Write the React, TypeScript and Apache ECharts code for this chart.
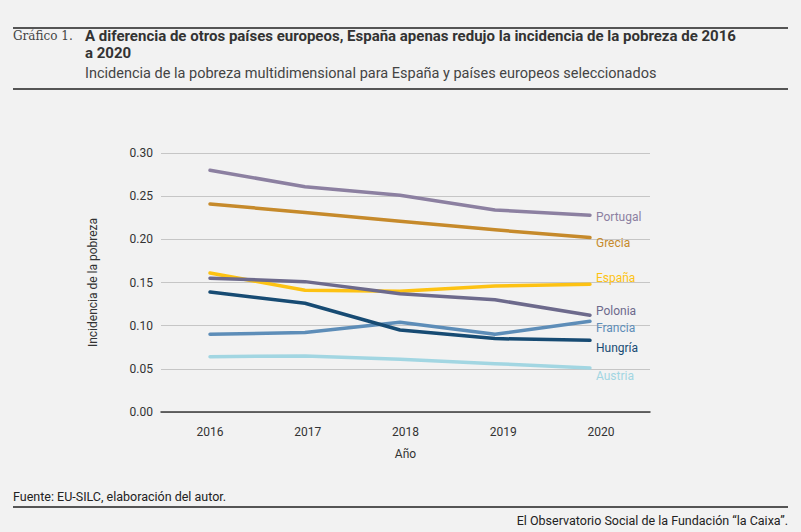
import { useEffect, useRef } from "react";
import * as echarts from "echarts";

// años y valores
const years = ["2016", "2017", "2018", "2019", "2020"];
const yearNums = [2016, 2017, 2018, 2019, 2020];

const portugal = [0.28, 0.261, 0.251, 0.234, 0.228];
const grecia = [0.241, 0.231, 0.221, 0.211, 0.202];
const espana = [0.161, 0.141, 0.14, 0.146, 0.148];
const polonia = [0.155, 0.151, 0.137, 0.13, 0.112];
const hungria = [0.139, 0.126, 0.095, 0.085, 0.083];
const francia = [0.09, 0.092, 0.104, 0.09, 0.105];
const austria = [0.064, 0.065, 0.061, 0.056, 0.051];

const yTicks = [0, 0.05, 0.1, 0.15, 0.2, 0.25, 0.3];

const countries = [
  { name: "Portugal", data: portugal, color: "#8c80a1", dy: 2 },
  { name: "Grecia", data: grecia, color: "#c68a2b", dy: 5 },
  { name: "España", data: espana, color: "#fdc213", dy: -6 },
  { name: "Polonia", data: polonia, color: "#6d6a8c", dy: -4 },
  { name: "Francia", data: francia, color: "#5d8db8", dy: 7 },
  { name: "Hungría", data: hungria, color: "#174b73", dy: 8 },
  { name: "Austria", data: austria, color: "#a2d6e2", dy: 8 },
];

const SANS = "Roboto, 'Liberation Sans', sans-serif";

export default function App() {
  const chartRef = useRef<HTMLDivElement>(null);

  useEffect(() => {
    document.body.style.margin = "0";
    const chart = echarts.init(chartRef.current, null, { renderer: "svg" });

    const option = {
      animation: false,
      backgroundColor: "#f2f2f2",
      textStyle: { fontFamily: SANS },
      grid: { left: 161, right: 151, top: 153, bottom: 120 },
      xAxis: [
        {
          type: "category",
          data: years,
          boundaryGap: true,
          name: "Año",
          nameLocation: "middle",
          nameGap: 36,
          nameTextStyle: { fontSize: 12, color: "#333", fontFamily: SANS },
          axisLine: { lineStyle: { color: "#3a3a3a", width: 1.5 } },
          axisTick: { show: false },
          axisLabel: { fontSize: 12, color: "#333", margin: 14, fontFamily: SANS },
        },
        {
          // eje oculto para colocar los puntos de datos
          type: "value",
          min: 2015.484,
          max: 2020.632,
          show: false,
        },
      ],
      yAxis: {
        type: "value",
        min: 0,
        max: 0.3,
        interval: 0.05,
        name: "Incidencia de la pobreza",
        nameLocation: "middle",
        nameGap: 62,
        nameRotate: 90,
        nameTextStyle: { fontSize: 12, color: "#333", fontFamily: SANS },
        axisLine: { show: false },
        axisTick: { show: false },
        axisLabel: {
          fontSize: 12,
          color: "#333",
          margin: 8,
          fontFamily: SANS,
          formatter: (v: number) => (yTicks.includes(Math.round(v * 100) / 100) ? v.toFixed(2) : ""),
        },
        splitLine: { lineStyle: { color: "#c6c6c6", width: 1 } },
      },
      series: countries.map((c) => ({
        name: c.name,
        type: "line",
        xAxisIndex: 1,
        data: c.data.map((v, i) => [yearNums[i], v]),
        showSymbol: false,
        symbol: "none",
        lineStyle: { color: c.color, width: 3.5, cap: "round", join: "round" },
        itemStyle: { color: c.color },
        endLabel: {
          show: true,
          formatter: c.name,
          color: c.color,
          fontSize: 12,
          fontFamily: SANS,
          distance: 6,
          offset: [0, c.dy],
        },
        z: 3,
      })),
      graphic: [
        { type: "rect", shape: { x: 13, y: 27, width: 775, height: 2 }, style: { fill: "#555" } },
        {
          type: "text",
          x: 13,
          y: 30,
          style: { text: "Gráfico 1.", font: "12px 'DejaVu Serif', 'Liberation Serif', serif", fill: "#444" },
        },
        {
          type: "text",
          x: 85,
          y: 27,
          style: {
            text: "A diferencia de otros países europeos, España apenas redujo la incidencia de la pobreza de 2016\na 2020",
            font: "bold 15px Roboto, 'Liberation Sans', sans-serif",
            fill: "#333",
            lineHeight: 17,
          },
        },
        {
          type: "text",
          x: 85,
          y: 66,
          style: {
            text: "Incidencia de la pobreza multidimensional para España y países europeos seleccionados",
            font: "14.5px Roboto, 'Liberation Sans', sans-serif",
            fill: "#444",
          },
        },
        { type: "rect", shape: { x: 13, y: 88, width: 775, height: 2 }, style: { fill: "#555" } },
        {
          type: "text",
          x: 13,
          y: 490,
          style: { text: "Fuente: EU-SILC, elaboración del autor.", font: "12.5px Roboto, 'Liberation Sans', sans-serif", fill: "#222" },
        },
        { type: "rect", shape: { x: 13, y: 506, width: 775, height: 2 }, style: { fill: "#555" } },
        {
          type: "text",
          x: 788,
          y: 514,
          style: {
            text: "El Observatorio Social de la Fundación “la Caixa”.",
            font: "12.5px Roboto, 'Liberation Sans', sans-serif",
            fill: "#222",
            align: "right",
          },
        },
      ],
    };

    chart.setOption(option);
    return () => chart.dispose();
  }, []);

  return <div ref={chartRef} style={{ width: 801, height: 532 }} />;
}
